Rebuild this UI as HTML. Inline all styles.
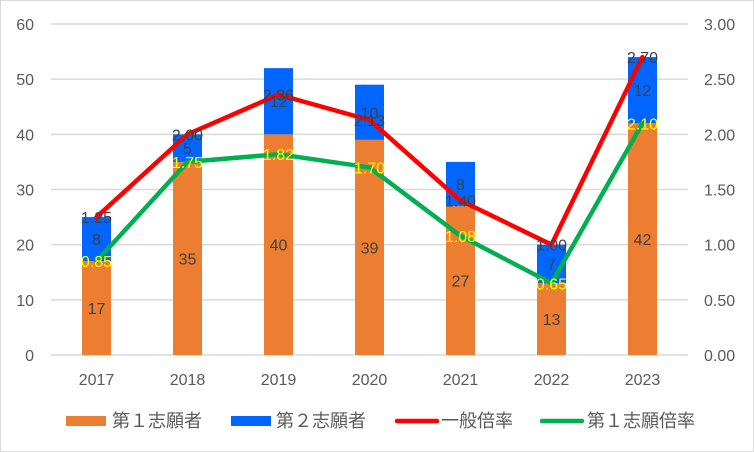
<!DOCTYPE html>
<html><head><meta charset="utf-8"><style>
body{margin:0;background:#fff}
svg{display:block;font-family:"Liberation Sans","Noto Sans CJK JP",sans-serif}
</style></head><body>
<svg id="c" width="754" height="452">
<rect x="0.5" y="0.5" width="753" height="451" fill="#fff" stroke="#d9d9d9"/>
<g id="g"></g>
</svg>
<script>
const categories=["2017","2018","2019","2020","2021","2022","2023"];
const first=[17,35,40,39,27,13,42];
const second=[8,5,12,10,8,7,12];
const generalRate=[1.25,2.00,2.36,2.13,1.40,1.00,2.70];
const firstRate=[0.85,1.75,1.82,1.70,1.08,0.65,2.10];
const leftTicks=[0,10,20,30,40,50,60];
const rightTicks=["0.00","0.50","1.00","1.50","2.00","2.50","3.00"];
const NS="http://www.w3.org/2000/svg";
const g=document.getElementById('g');
const y0=355,y1=24,x0=51,x1=688;
const yL=v=>y0-(v/60)*(y0-y1);
const yR=v=>y0-(v/3)*(y0-y1);
const bw=(x1-x0)/categories.length;
const xc=i=>x0+bw*(i+0.5);
function mk(t,a){const e=document.createElementNS(NS,t);for(const k in a)e.setAttribute(k,a[k]);g.appendChild(e);return e;}
leftTicks.forEach((v,i)=>{
 const l=mk('line',{x1:x0,x2:x1,y1:yL(v),y2:yL(v),stroke:'#d9d9d9','stroke-width':1.5});
 
 
 const t=mk('text',{x:34,y:yL(v)+6,'text-anchor':'end','font-size':16,fill:'#595959'});t.textContent=v;
 
 
 const r=mk('text',{x:704,y:yL(v)+6,'font-size':16,fill:'#595959'});r.textContent=rightTicks[i];
 
 
});
categories.forEach((c,i)=>{
 const x=xc(i)-14.5;
 const a=mk('rect',{x:x,y:yL(first[i]),width:29,height:y0-yL(first[i]),fill:'#ed7d31'});
 
 
 const b=mk('rect',{x:x,y:yL(first[i]+second[i]),width:29,height:yL(first[i])-yL(first[i]+second[i]),fill:'#0066ff'});
 
 
 const t=mk('text',{x:xc(i),y:y0+30,'text-anchor':'middle','font-size':16,fill:'#595959'});t.textContent=c;
 
 
});
function line(arr,col,name){
 const p=mk('polyline',{points:arr.map((v,i)=>xc(i)+','+yR(v)).join(' '),fill:'none',stroke:col,'stroke-width':4.5,'stroke-linejoin':'round','stroke-linecap':'round'});
 
 
}
line(firstRate,'#00b050','line-first-rate');
line(generalRate,'#ff0000','line-general-rate');
function lab(x,y,s,col,name){const t=mk('text',{x:x,y:y+6,'text-anchor':'middle','font-size':16,fill:col});t.textContent=s;
 
 }
categories.forEach((c,i)=>{
 lab(xc(i),(yL(first[i])+y0)/2,first[i],'#404040','label-first');
 lab(xc(i),(yL(first[i])+yL(first[i]+second[i]))/2,second[i],'#404040','label-second');
 lab(xc(i),yR(generalRate[i]),generalRate[i].toFixed(2),'#404040','label-general-rate');
 lab(xc(i),yR(firstRate[i]),firstRate[i].toFixed(2),'#ffff00','label-first-rate');
});
const leg=[["第１志願者",'#ed7d31','box',66,112],["第２志願者",'#0066ff','box',231,276],["一般倍率",'#ff0000','line',395,441],["第１志願倍率",'#00b050','line',540,587]];
leg.forEach(([s,col,k,x,tx])=>{
 let m;
 if(k==='box')m=mk('rect',{x:x,y:416,width:40,height:10,fill:col});
 else m=mk('line',{x1:x+2,x2:x+42,y1:421,y2:421,stroke:col,'stroke-width':4.5,'stroke-linecap':'round'});
 
 
 const t=mk('text',{x:tx,y:427,'font-size':18,fill:'#595959'});t.textContent=s;
 
 
});
</script>
</body></html>
